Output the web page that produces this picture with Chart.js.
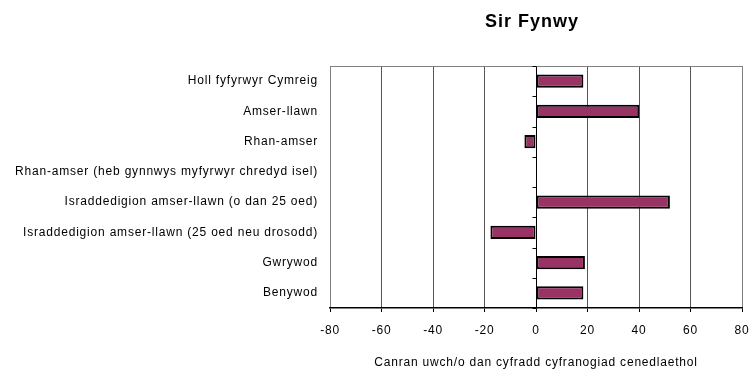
<!DOCTYPE html>
<html>
<head>
<meta charset="utf-8">
<script src="https://cdn.jsdelivr.net/npm/chart.js@4/dist/chart.umd.min.js"></script>
<style>
  html, body { margin: 0; padding: 0; background: #fff; }
  #wrap { width: 752px; height: 375px; }
</style>
</head>
<body>
<div id="wrap"><canvas id="barChart"></canvas></div>
<script>
const chartTitle = 'Sir Fynwy';
const axisTitle = 'Canran uwch/o dan cyfradd cyfranogiad cenedlaethol';

const categories = [
  'Holl fyfyrwyr Cymreig',
  'Amser-llawn',
  'Rhan-amser',
  'Rhan-amser (heb gynnwys myfyrwyr chredyd isel)',
  'Israddedigion amser-llawn (o dan 25 oed)',
  'Israddedigion amser-llawn (25 oed neu drosodd)',
  'Gwrywod',
  'Benywod'
];
// percentage above/below national participation rate (no value for row 4)
const values = [18.4, 40.1, -4.5, null, 52, -17.7, 19, 18.4];
const xTicks = [-80, -60, -40, -20, 0, 20, 40, 60, 80];

const FONT = '"Liberation Sans", Arial, sans-serif';

// spaced-out text like the old spreadsheet rendering
const spacing = {
  id: 'spacing',
  beforeDraw(chart) { chart.ctx.letterSpacing = '0.8px'; }
};

// title centred over the plot area, frame top edge, small ticks on the zero line
const decor = {
  id: 'decor',
  beforeDatasetsDraw(chart) {
    const {ctx, chartArea} = chart;
    ctx.save();
    ctx.strokeStyle = '#808080';
    ctx.lineWidth = 1;
    ctx.beginPath();
    ctx.moveTo(chartArea.left, chartArea.top + 0.5);
    ctx.lineTo(chartArea.right, chartArea.top + 0.5);
    ctx.stroke();
    ctx.restore();
  },
  afterDraw(chart) {
    const {ctx, chartArea, scales} = chart;
    const x0 = Math.round(scales.x.getPixelForValue(0)) + 0.5;
    ctx.save();
    ctx.strokeStyle = '#000';
    ctx.lineWidth = 1;
    ctx.beginPath();
    for (let i = 0; i <= categories.length; i++) {
      const y = Math.round(scales.y.getPixelForValue(i - 0.5)) + 0.5;
      ctx.moveTo(x0 - 4, y);
      ctx.lineTo(x0, y);
    }
    ctx.stroke();

    ctx.letterSpacing = '1px';
    ctx.fillStyle = '#000';
    ctx.font = 'bold 18px ' + FONT;
    ctx.textAlign = 'center';
    ctx.textBaseline = 'middle';
    ctx.fillText(chartTitle, (chartArea.left + chartArea.right) / 2 - 4, 22);
    ctx.restore();
  }
};

new Chart(document.getElementById('barChart'), {
  type: 'bar',
  data: {
    labels: categories,
    datasets: [{
      data: values,
      backgroundColor: '#993366',
      borderColor: '#000',
      borderWidth: 2,
      borderSkipped: false,
      categoryPercentage: 1,
      barPercentage: 0.44
    }]
  },
  options: {
    indexAxis: 'y',
    responsive: true,
    maintainAspectRatio: false,
    animation: false,
    layout: { padding: { top: 66, right: 10, left: 0, bottom: 0 } },
    plugins: {
      legend: { display: false },
      tooltip: { enabled: false }
    },
    scales: {
      x: {
        min: -80,
        max: 80,
        afterFit(scale) {
          scale.height = 67;
          scale.paddingLeft = 0;
          scale.paddingRight = 0;
        },
        afterBuildTicks(scale) { scale.ticks = xTicks.map(v => ({ value: v })); },
        grid: {
          color: c => (Math.abs(c.tick.value) === 80 ? '#808080' : (c.tick.value === 0 ? '#000' : '#555')),
          tickColor: '#000',
          tickLength: 4,
          lineWidth: 1
        },
        border: { display: true, color: '#000', width: 1.5 },
        ticks: {
          color: '#000',
          font: { family: FONT, size: 12 },
          padding: 11,
          maxRotation: 0
        },
        title: {
          display: true,
          text: axisTitle,
          color: '#000',
          font: { family: FONT, size: 12 },
          padding: { top: 0, bottom: 5 }
        }
      },
      y: {
        afterFit(scale) { scale.width = 330; },
        grid: { display: false, drawTicks: false },
        border: { display: false },
        ticks: {
          color: '#000',
          font: { family: FONT, size: 12 },
          padding: 12
        }
      }
    }
  },
  plugins: [spacing, decor]
});
</script>
</body>
</html>
